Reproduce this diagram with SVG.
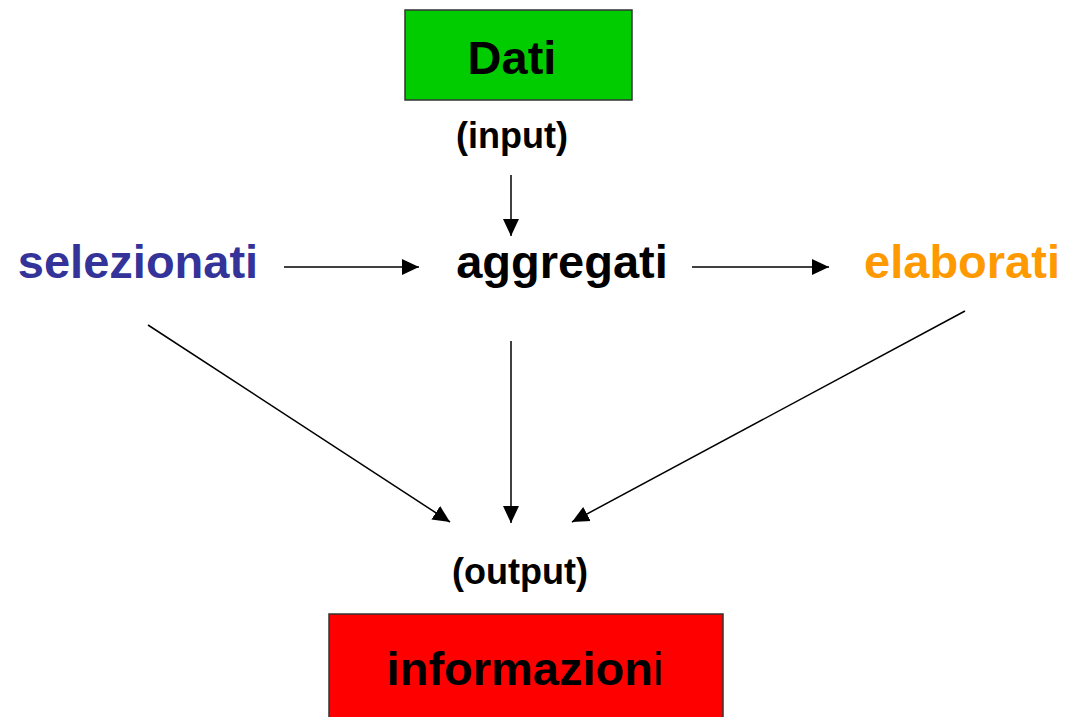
<svg xmlns="http://www.w3.org/2000/svg" width="1066" height="717" viewBox="0 0 1066 717">
<style>
.t{font-family:"Liberation Sans",Arial,sans-serif;font-weight:bold;font-size:47px;text-anchor:middle}
.s{font-family:"Liberation Sans",Arial,sans-serif;font-weight:bold;font-size:36px;text-anchor:middle;fill:#000}
.box{stroke:#333;stroke-width:1.5}
.c{stroke:#000;stroke-width:1.5;fill:none;marker-end:url(#ah)}
</style>
<defs>
<marker id="ah" markerUnits="userSpaceOnUse" markerWidth="18" markerHeight="18" viewBox="0 0 18 18" refX="17" refY="9" orient="auto">
<path d="M0,1 L17,9 L0,17 Z" fill="#000"/>
</marker>
</defs>
<rect width="1066" height="717" fill="#fff"/>
<g id="dati">
<rect class="box" x="405" y="10" width="227" height="90" fill="#00CC00"/>
<text class="t" x="512" y="74" fill="#000">Dati</text>
</g>
<g id="input"><text class="s" x="512" y="148">(input)</text></g>
<g id="selezionati"><text class="t" x="138" y="278" fill="#333399">selezionati</text></g>
<g id="aggregati"><text class="t" x="562" y="278" fill="#000">aggregati</text></g>
<g id="elaborati"><text class="t" x="962" y="278" fill="#FF9900">elaborati</text></g>
<g id="output"><text class="s" x="520" y="584">(output)</text></g>
<g id="informazioni">
<rect class="box" x="329" y="614" width="394" height="110" fill="#FF0000"/>
<text class="t" x="525" y="685" fill="#000">informazion<tspan font-weight="normal">i</tspan></text>
</g>
<g id="connectors">
<line class="c" x1="511" y1="175" x2="511" y2="236"/>
<line class="c" x1="284" y1="267" x2="419" y2="267"/>
<line class="c" x1="692" y1="267" x2="829" y2="267"/>
<line class="c" x1="148" y1="325" x2="450" y2="522"/>
<line class="c" x1="511" y1="341" x2="511" y2="523"/>
<line class="c" x1="965" y1="311" x2="572" y2="522"/>
</g>
</svg>
